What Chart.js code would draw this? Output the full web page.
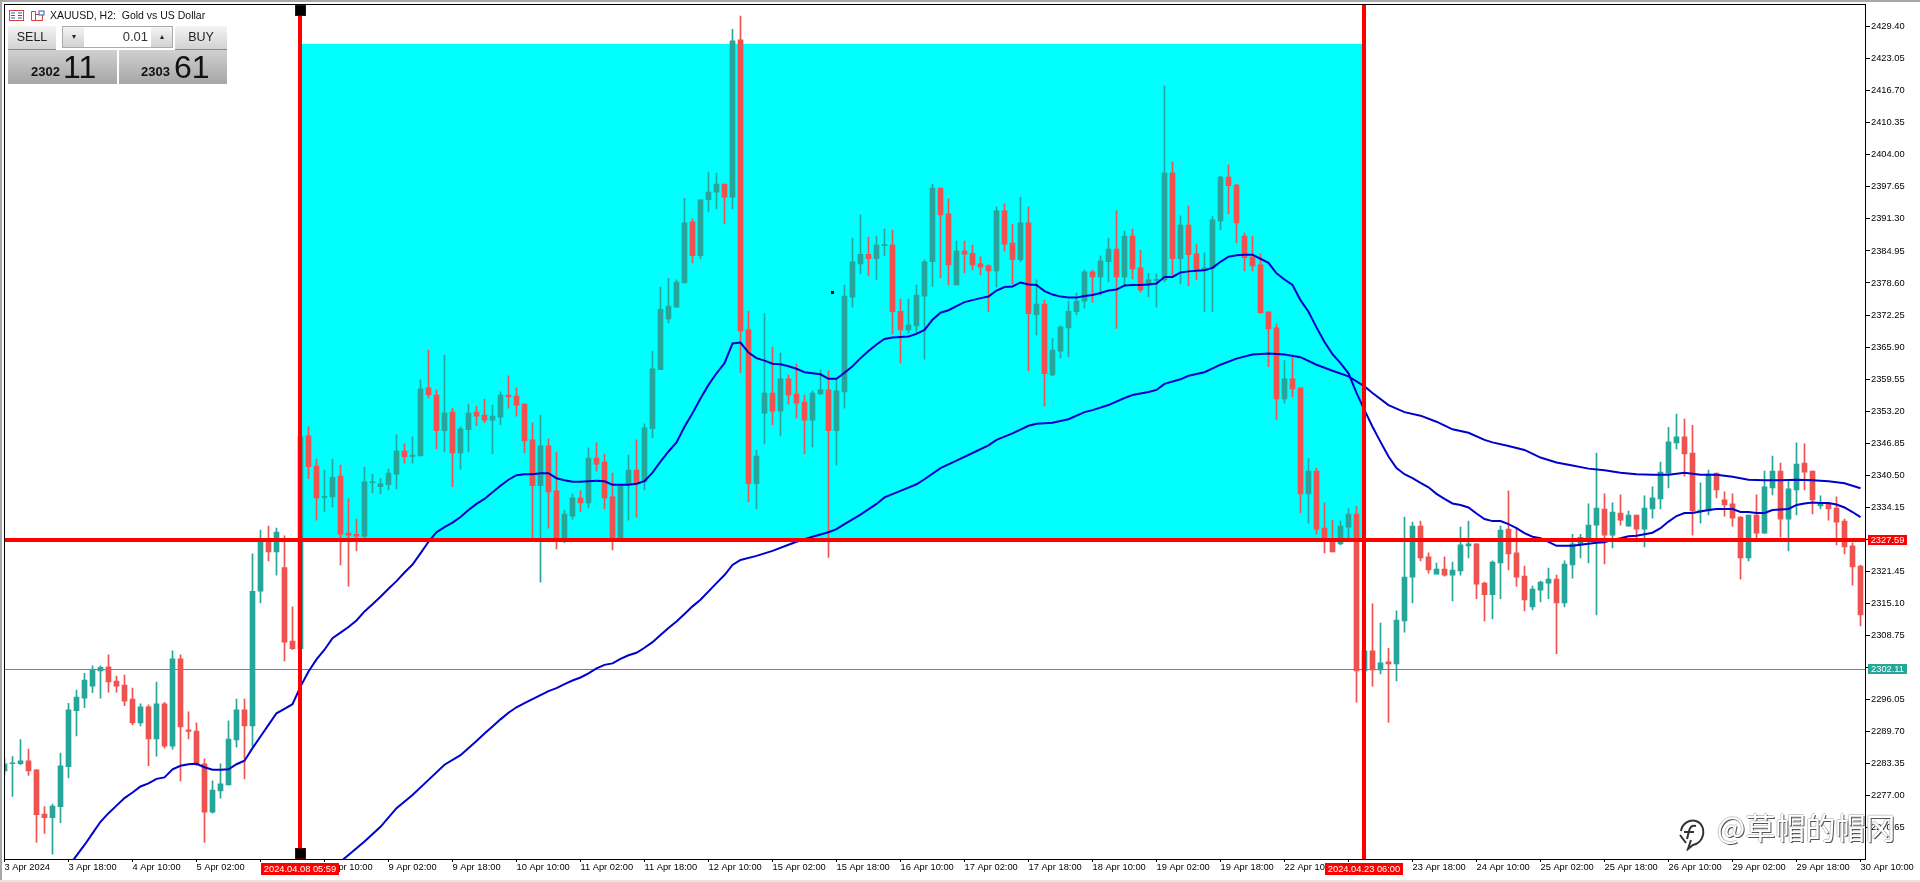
<!DOCTYPE html>
<html>
<head>
<meta charset="utf-8">
<title>XAUUSD, H2</title>
<script src="https://cdn.jsdelivr.net/npm/chart.js@4"></script>
<style>
	html, body { margin: 0; padding: 0; background: #fff; overflow: hidden; }
	#wrap { position: relative; width: 1920px; height: 882px; font-family: "Liberation Sans", sans-serif; }
	#wrap canvas { position: absolute; left: 0; top: 0; }
	.edge { position: absolute; background: #a8a8a8; }
	.box { position: absolute; box-sizing: border-box; text-align: center; color: #222; white-space: pre; }
	.btn { background: linear-gradient(#f4f4f4, #d2d2d2); font-size: 12.500px; line-height: 22px; }
	.quote { background: linear-gradient(#d0d0d0, #a6a6a6); }
	.small { position: absolute; bottom: 5px; font-size: 13px; font-weight: bold; color: #111; }
	.big { position: absolute; bottom: 0; font-size: 32px; line-height: 34px; color: #111; }
	#mark { position: absolute; left: 1717px; top: 806px; font: 30px/40px "Noto Sans CJK SC", sans-serif; color: #fff; white-space: pre;
		text-shadow: 1px 1px 0 #555, -1px 0 0 #ccc, 0 -1px 0 #ccc; }
</style>
</head>
<body>
<div id="wrap">
	<canvas id="chart" width="1920" height="882"></canvas>
	<div class="edge" style="left:0;top:0;width:1920px;height:2px"></div>
	<div class="edge" style="left:0;top:0;width:2px;height:880px"></div>
	<div class="edge" style="left:0;top:880px;width:1920px;height:2px;background:#e4e4e4"></div>

	<svg style="position:absolute;left:9px;top:10px" width="38" height="12">
		<rect x="0.5" y="0.5" width="14" height="10" fill="#fff" stroke="#d8403a"/>
		<path d="M2 3h4M2 5.500h4M2 8h4M9 3h4M9 5.500h4M9 8h4" stroke="#2d5fb0"/>
		<path d="M22.500 1.500h4v9h-4zM26.500 4.500h7v6h-7z" fill="#fff" stroke="#d8403a"/>
		<rect x="30" y="1" width="5" height="4" fill="#fff" stroke="#2d5fb0"/>
	</svg>
	<div class="box" style="left:50px;top:9px;font-size:10.500px;line-height:13px;color:#111">XAUUSD, H2:  Gold vs US Dollar</div>

	<div class="box btn" style="left:8px;top:26px;width:48px;height:24px;border-bottom:1px solid #888">SELL</div>
	<div class="box" style="left:62px;top:26px;width:111px;height:22px;border:1px solid #aaa;background:#fff"></div>
	<div class="box btn" style="left:63px;top:27px;width:21px;height:20px;line-height:20px;font-size:8px">▾</div>
	<div class="box" style="left:84px;top:27px;width:64px;height:20px;line-height:20px;font-size:13px;text-align:right;color:#333">0.01</div>
	<div class="box btn" style="left:151px;top:27px;width:21px;height:20px;line-height:20px;font-size:8px">▴</div>
	<div class="box btn" style="left:175px;top:26px;width:52px;height:24px;border-bottom:1px solid #888">BUY</div>
	<div class="box quote" style="left:8px;top:50px;width:109px;height:34px">
		<span class="small" style="left:23px">2302</span><span class="big" style="left:55px">11</span>
	</div>
	<div class="box quote" style="left:119px;top:50px;width:108px;height:34px">
		<span class="small" style="left:22px">2303</span><span class="big" style="left:55px">61</span>
	</div>

	<div style="position:absolute;left:831px;top:291px;width:3px;height:3px;background:#000"></div>

	<svg style="position:absolute;left:1675px;top:817px" width="32" height="34">
		<path d="M6 14c1-7 8-12 15-10 6 2 8 8 7 14-1 5-5 9-10 10l-5 4c1-3 2-6 3-9M5 18l6 8M21 9c-4-1-6 1-7 5l-2 8M9 15h10" fill="none" stroke="#333" stroke-width="2"/>
	</svg>
	<div id="mark">@草帽的帽冈</div>
</div>

<script>
// XAUUSD H2 bars, 3 Apr 2024 - 30 Apr 2024
var opens = [
	2281.9,2283.3,2283.3,2283.9,2282.1,2273.3,2272.6,2274.8,2282.7,2293.8,
	2296.3,2298.7,2301.7,2302.5,2299.7,2298.9,2296.1,2291.4,2294.6,2288.2,
	2295.2,2286.8,2304.1,2290.0,2289.8,2283.3,2273.7,2277.9,2279.1,2288.0,
	2294.0,2290.8,2317.5,2327.7,2325.3,2322.2,2307.6,2306.1,2348.3,2342.3,
	2336.1,2336.2,2340.3,2329.0,2328.8,2328.4,2339.0,2338.2,2338.6,2340.7,
	2345.3,2344.2,2344.3,2357.8,2356.4,2349.3,2353.0,2344.9,2349.5,2353.0,
	2352.4,2351.4,2352.0,2356.4,2356.2,2354.6,2347.5,2338.4,2346.3,2337.4,
	2327.7,2332.4,2336.0,2335.0,2343.9,2343.1,2336.2,2327.7,2338.6,2341.5,
	2339.2,2349.7,2361.4,2371.5,2373.8,2378.6,2390.7,2384.0,2395.1,2396.6,
	2398.2,2395.6,2426.8,2369.3,2338.8,2352.8,2356.8,2353.2,2359.6,2356.6,
	2355.0,2351.4,2356.6,2357.4,2349.3,2357.0,2375.8,2382.4,2384.3,2383.4,
	2386.0,2386.1,2373.0,2369.3,2370.1,2376.0,2382.8,2397.4,2392.3,2378.2,
	2384.9,2384.5,2382.4,2382.0,2381.0,2392.9,2386.5,2383.2,2390.5,2372.3,
	2374.4,2360.4,2365.1,2369.7,2372.9,2375.0,2380.8,2379.8,2382.8,2385.3,
	2379.8,2387.9,2381.6,2378.2,2379.1,2379.2,2400.4,2383.4,2390.1,2384.4,
	2381.2,2381.5,2390.9,2399.6,2398.0,2387.9,2383.8,2382.2,2372.9,2369.7,
	2355.6,2359.6,2357.8,2336.8,2341.3,2330.0,2327.4,2326.9,2330.2,2332.8,
	2301.7,2305.7,2301.9,2303.5,2303.1,2311.6,2320.3,2330.4,2324.3,2320.9,
	2321.9,2320.7,2321.5,2326.5,2326.9,2319.1,2316.8,2323.1,2329.8,2325.1,
	2320.5,2314.4,2317.7,2319.1,2319.9,2315.2,2322.7,2326.7,2328.0,2330.6,
	2333.8,2328.6,2333.0,2330.4,2332.6,2329.8,2333.8,2335.8,2340.9,2346.9,
	2348.1,2344.9,2333.4,2333.4,2340.9,2335.6,2334.8,2332.2,2324.1,2332.6,
	2329.0,2338.0,2341.3,2331.8,2337.6,2342.9,2341.3,2334.4,2334.8,2334.0,
	2331.4,2326.5,2322.5
];
var closes = [
	2283.3,2283.5,2283.9,2281.9,2273.2,2272.6,2274.9,2282.9,2294.0,2296.5,
	2299.9,2301.9,2302.4,2299.5,2298.7,2295.7,2291.4,2294.6,2288.2,2295.2,
	2286.8,2304.1,2290.6,2289.7,2283.3,2273.7,2278.1,2279.3,2288.2,2294.0,
	2290.8,2317.5,2327.7,2325.3,2329.2,2307.4,2306.1,2348.1,2342.2,2336.0,
	2336.3,2340.1,2328.8,2328.6,2328.4,2339.2,2339.2,2338.8,2340.9,2345.3,
	2344.1,2344.5,2357.6,2356.4,2349.3,2352.8,2344.9,2349.7,2352.8,2352.2,
	2351.4,2352.2,2356.4,2356.0,2354.4,2347.3,2338.4,2346.3,2337.2,2327.5,
	2332.8,2336.0,2335.0,2343.9,2342.7,2336.0,2327.7,2338.6,2341.5,2338.8,
	2349.9,2361.6,2373.4,2374.0,2378.8,2390.5,2384.0,2395.1,2396.6,2398.2,
	2395.6,2426.6,2369.1,2338.8,2344.3,2356.8,2353.2,2359.6,2356.4,2354.8,
	2351.4,2356.8,2357.4,2349.3,2357.2,2376.0,2382.8,2384.3,2383.4,2386.1,
	2386.1,2372.9,2369.3,2370.3,2376.2,2382.8,2397.4,2392.1,2382.2,2384.9,
	2384.3,2382.2,2381.8,2381.0,2392.9,2386.3,2383.2,2390.5,2372.5,2374.4,
	2360.6,2365.3,2369.9,2373.0,2375.0,2380.8,2379.8,2383.0,2385.3,2379.8,
	2387.9,2381.4,2377.2,2379.2,2379.3,2400.4,2383.4,2390.1,2384.2,2381.2,
	2381.6,2391.1,2399.6,2397.9,2390.5,2383.6,2382.0,2372.7,2369.5,2355.6,
	2359.6,2357.6,2336.8,2341.3,2329.8,2327.7,2325.3,2330.4,2332.8,2301.7,
	2305.7,2301.9,2303.3,2303.1,2311.8,2320.3,2330.4,2324.1,2321.7,2321.9,
	2320.7,2321.7,2326.7,2326.9,2318.9,2316.8,2323.3,2329.6,2324.9,2320.3,
	2315.8,2317.9,2319.3,2319.9,2315.2,2322.9,2326.9,2328.2,2330.6,2334.0,
	2328.6,2333.2,2331.6,2332.6,2329.8,2334.0,2336.0,2341.1,2347.1,2348.1,
	2344.7,2333.4,2333.6,2340.7,2337.6,2334.6,2332.0,2324.1,2332.6,2329.0,
	2338.2,2341.3,2331.8,2337.8,2342.7,2341.1,2335.6,2334.8,2333.8,2331.2,
	2326.3,2322.3,2312.8
];
var highs = [
	2284.4,2284.7,2288.1,2286.2,2282.1,2274.8,2275.3,2285.4,2295.3,2297.9,
	2301.2,2302.7,2302.7,2304.9,2300.7,2300.9,2298.3,2295.2,2295.0,2299.5,
	2295.5,2305.7,2304.9,2293.6,2291.4,2284.3,2279.9,2283.3,2291.8,2296.1,
	2296.1,2324.9,2329.6,2330.4,2330.0,2328.5,2314.4,2350.1,2350.1,2343.7,
	2341.5,2343.7,2342.5,2335.8,2331.8,2342.1,2340.7,2339.9,2341.7,2348.5,
	2346.7,2348.1,2359.4,2365.3,2357.4,2364.3,2353.8,2350.1,2354.6,2354.2,
	2355.6,2354.4,2357.0,2360.2,2357.8,2354.7,2350.9,2352.4,2347.7,2345.1,
	2333.6,2336.8,2337.4,2345.9,2346.9,2344.7,2340.9,2338.6,2344.5,2347.5,
	2350.7,2365.1,2377.8,2379.5,2379.2,2395.4,2391.3,2395.1,2400.6,2400.4,
	2398.2,2428.9,2431.5,2373.0,2345.5,2372.6,2365.9,2364.7,2360.4,2362.5,
	2356.4,2357.2,2361.4,2361.2,2359.4,2378.2,2387.5,2392.1,2387.7,2387.9,
	2389.3,2389.1,2375.4,2375.4,2378.2,2383.2,2398.2,2397.4,2395.3,2386.9,
	2386.9,2386.1,2383.8,2382.2,2393.7,2394.3,2390.3,2395.6,2393.7,2379.2,
	2375.2,2367.6,2370.1,2375.0,2376.6,2381.2,2381.2,2384.0,2387.5,2392.9,
	2388.9,2389.3,2385.1,2380.5,2380.4,2417.7,2402.6,2391.9,2393.9,2386.2,
	2384.6,2391.8,2399.8,2402.0,2398.2,2388.5,2387.9,2384.4,2372.9,2370.5,
	2363.2,2363.8,2357.8,2343.8,2341.9,2335.0,2331.6,2331.4,2333.9,2334.4,
	2309.2,2315.0,2311.2,2306.2,2313.6,2332.2,2331.2,2331.4,2325.1,2323.1,
	2324.3,2323.3,2330.2,2331.4,2326.9,2319.3,2323.5,2330.4,2337.4,2330.0,
	2322.5,2318.5,2319.5,2322.1,2320.7,2323.5,2328.8,2328.8,2334.8,2344.9,
	2336.8,2335.0,2336.6,2333.4,2332.6,2336.4,2338.2,2343.1,2350.0,2352.6,
	2351.6,2350.4,2339.0,2341.5,2340.9,2337.2,2336.8,2332.3,2332.6,2336.6,
	2341.3,2344.3,2342.9,2339.3,2346.9,2346.7,2341.3,2336.4,2334.9,2336.2,
	2331.8,2327.1,2322.7
];
var lows = [
	2281.1,2276.8,2283.1,2281.0,2267.7,2269.5,2265.4,2271.6,2280.5,2288.8,
	2294.4,2297.4,2296.3,2297.5,2297.5,2294.8,2291.0,2290.8,2282.9,2284.8,
	2286.4,2286.2,2279.9,2288.2,2282.9,2267.7,2273.5,2276.5,2279.1,2286.6,
	2280.3,2286.8,2315.2,2323.5,2320.7,2303.7,2305.9,2306.0,2339.8,2331.6,
	2333.2,2334.2,2322.7,2318.5,2325.5,2328.0,2337.0,2336.8,2337.6,2337.8,
	2342.9,2342.9,2344.3,2355.8,2345.7,2345.1,2338.2,2341.7,2345.1,2350.3,
	2350.9,2344.7,2350.5,2353.8,2352.2,2344.9,2328.0,2319.3,2330.0,2325.9,
	2327.1,2331.8,2333.2,2334.0,2341.3,2333.8,2325.7,2327.5,2331.6,2332.2,
	2337.6,2347.9,2361.4,2370.7,2373.8,2378.6,2382.6,2383.4,2392.7,2393.3,
	2390.3,2393.3,2360.8,2335.2,2333.8,2346.7,2350.5,2348.3,2354.6,2351.8,
	2344.7,2346.1,2356.4,2324.2,2342.5,2353.8,2373.8,2380.4,2380.0,2379.2,
	2384.0,2368.5,2362.7,2368.6,2368.6,2363.5,2377.9,2379.6,2378.2,2378.2,
	2380.6,2381.2,2380.2,2372.9,2377.8,2384.9,2378.4,2382.8,2361.2,2368.3,
	2354.2,2360.2,2363.7,2364.0,2372.3,2373.6,2374.8,2376.2,2378.8,2369.6,
	2378.0,2379.4,2376.8,2375.9,2373.8,2378.8,2380.2,2378.4,2378.0,2379.2,
	2372.9,2372.9,2389.1,2392.3,2386.6,2381.0,2381.0,2372.5,2362.0,2351.5,
	2354.8,2356.0,2333.0,2331.0,2328.8,2325.1,2325.3,2326.7,2327.7,2295.5,
	2301.2,2298.7,2301.1,2291.5,2299.7,2309.4,2315.2,2323.5,2321.1,2320.9,
	2320.5,2315.6,2320.7,2324.1,2316.0,2311.6,2312.0,2316.0,2321.7,2318.5,
	2313.6,2313.8,2315.4,2316.0,2305.1,2314.4,2320.1,2324.1,2323.1,2312.8,
	2322.9,2326.1,2330.6,2330.4,2327.7,2326.3,2332.0,2333.8,2338.0,2345.7,
	2340.3,2328.6,2331.0,2332.6,2336.0,2332.4,2330.4,2319.9,2323.5,2328.0,
	2329.0,2336.6,2328.2,2325.5,2332.6,2337.6,2332.8,2333.8,2331.6,2326.7,
	2324.9,2318.7,2310.6
];

// fast moving average, one value per bar starting at bar ma1First
var ma1First = 8;
var ma1Values = [
	2262.9,2265.1,2267.2,2269.5,2271.8,2273.5,2275.0,2276.5,2277.6,2278.8,2279.4,2280.3,2280.6,2282.2,2282.9,2283.2,
	2283.3,2282.6,2282.1,2282.1,2282.2,2283.2,2283.9,2286.4,2288.7,2291.0,2293.3,2294.2,2295.1,2298.6,2301.6,2304.0,
	2305.9,2308.2,2309.3,2310.4,2311.7,2313.5,2314.9,2316.4,2318.0,2319.5,2321.2,2322.8,2325.0,2327.3,2329.2,2330.2,
	2331.1,2332.2,2333.6,2334.8,2335.8,2337.1,2338.4,2339.6,2340.5,2340.7,2340.7,2340.9,2340.9,2339.9,2339.5,2339.2,
	2339.2,2339.3,2339.4,2339.3,2338.6,2338.6,2338.6,2338.8,2339.3,2341.0,2343.2,2345.2,2347.0,2350.1,2352.8,2355.7,
	2358.4,2360.7,2362.7,2366.6,2366.8,2364.8,2363.7,2363.2,2362.6,2362.5,2362.1,2361.6,2360.9,2360.7,2360.5,2359.6,
	2359.6,2360.8,2362.1,2363.7,2365.1,2366.4,2367.5,2367.8,2367.9,2368.0,2368.5,2369.3,2371.3,2372.7,2373.2,2374.0,
	2374.8,2375.2,2375.6,2375.9,2377.1,2377.8,2377.9,2378.7,2378.3,2378.2,2377.0,2376.3,2375.9,2375.7,2375.7,2376.0,
	2376.2,2376.6,2377.1,2377.3,2378.1,2378.2,2378.2,2378.3,2378.5,2379.8,2379.8,2380.7,2380.9,2381.0,2381.1,2381.6,
	2382.8,2383.8,2384.1,2384.2,2384.2,2383.4,2382.6,2380.5,2379.3,2378.2,2375.2,2372.9,2369.8,2366.9,2364.5,2362.7,
	2360.7,2356.8,2353.4,2350.1,2347.1,2344.2,2341.9,2340.7,2339.9,2339.0,2338.1,2336.8,2335.8,2334.9,2334.6,2334.1,
	2332.9,2331.8,2331.4,2331.4,2330.8,2330.0,2329.0,2328.3,2328.0,2327.3,2326.5,2326.5,2326.5,2326.7,2326.9,2327.1,
	2327.2,2327.7,2328.0,2328.4,2328.5,2328.8,2329.1,2330.0,2331.3,2332.4,2333.0,2333.0,2333.3,2333.6,2333.8,2333.8,
	2333.8,2333.2,2333.2,2333.0,2333.0,2333.6,2333.7,2333.8,2334.6,2334.9,2335.1,2335.0,2335.0,2334.7,2334.1,2333.2,
	2332.2
];

// slow moving average, read at the bars listed in ma2Bars
var ma2Bars = [
	42,43,45,47,49,51,53,55,57,59,60,61,62,63,64,65,66,67,68,69,70,71,72,73,74,75,76,77,78,79,80,81,82,83,84,85,86,87,89,90,
	91,92,94,96,98,99,101,103,104,105,107,109,110,112,114,115,117,119,121,123,124,126,128,129,131,133,135,136,138,140,141,143,144,145,147,148,150,152,154,156,
	158,160,162,164,166,168,170,171,173,175,177,179,181,183,185,186,188,190,192,194,196,198,200,202,204,206,208,210,212,214,216,218,220,222,224,226,228,230,232
];
var ma2Values = [
	2263.9,2265.2,2267.9,2270.8,2274.5,2277.1,2280.1,2283.1,2285.0,2287.8,2289.3,2290.7,2292.1,2293.4,2294.5,2295.3,2296.1,2296.9,2297.7,2298.3,2299.1,2299.8,2300.4,2301.2,2302.2,2302.9,2303.2,2304.1,2304.8,2305.3,2306.3,2307.4,2308.8,2310.2,2311.5,2313.0,2314.5,2315.8,2319.1,2320.7,
	2322.7,2323.7,2324.5,2325.5,2326.7,2327.3,2328.3,2329.2,2329.8,2330.8,2332.7,2334.8,2336.1,2337.4,2338.7,2339.7,2341.9,2343.4,2344.9,2346.4,2347.5,2348.8,2350.3,2350.7,2350.9,2351.6,2353.0,2353.4,2354.4,2355.8,2356.4,2357.0,2357.4,2358.6,2359.5,2360.2,2360.9,2362.4,2363.6,2364.4,
	2364.6,2364.4,2363.9,2362.4,2361.2,2360.1,2358.1,2356.8,2354.4,2353.0,2352.3,2351.1,2349.6,2348.9,2347.5,2347.0,2346.3,2345.5,2344.0,2343.0,2342.4,2341.8,2341.5,2341.0,2340.7,2340.6,2340.6,2341.0,2340.6,2340.6,2340.2,2339.6,2339.5,2339.5,2339.6,2339.5,2339.3,2338.9,2337.9
];

var priceTicks = [
	2429.40,2423.05,2416.70,2410.35,2404.00,2397.65,2391.30,2384.95,2378.60,2372.25,2365.90,2359.55,2353.20,
	2346.85,2340.50,2334.15,2327.80,2321.45,2315.10,2308.75,2302.40,2296.05,2289.70,2283.35,2277.00,2270.65
];
// one label every 8 bars
var timeTicks = [
	'3 Apr 2024','3 Apr 18:00','4 Apr 10:00','5 Apr 02:00','5 Apr 18:00','8 Apr 10:00','9 Apr 02:00','9 Apr 18:00',
	'10 Apr 10:00','11 Apr 02:00','11 Apr 18:00','12 Apr 10:00','15 Apr 02:00','15 Apr 18:00','16 Apr 10:00',
	'17 Apr 02:00','17 Apr 18:00','18 Apr 10:00','19 Apr 02:00','19 Apr 18:00','22 Apr 10:00','23 Apr 02:00',
	'23 Apr 18:00','24 Apr 10:00','25 Apr 02:00','25 Apr 18:00','26 Apr 10:00','29 Apr 02:00','29 Apr 18:00','30 Apr 10:00'
];

var lineBars = [37, 170];
var lineTimes = ['2024.04.08 05:59', '2024.04.23 06:00'];
var linePrice = 2327.59;
var bidPrice = 2302.11;
var zoneTop = 2426.0;

var UP = '#26a69a', DOWN = '#ef5350', RED = '#ff0000';
var FAMILY = '"Liberation Sans", sans-serif';
var FONT = '9.3px ' + FAMILY;

var bodies = [], wicks = [], colors = [];
opens.forEach(function(o, i) {
	bodies.push({x: i, y: [o, closes[i]]});
	wicks.push({x: i, y: [lows[i], highs[i]]});
	colors.push(closes[i] >= o ? UP : DOWN);
});

function tag(ctx, x, y, w, h, color, text) {
	ctx.fillStyle = color;
	ctx.fillRect(x, y, w, h);
	ctx.fillStyle = '#fff';
	ctx.font = FONT;
	ctx.textAlign = 'center';
	ctx.textBaseline = 'middle';
	ctx.fillText(text, x + w / 2, y + h / 2 + 0.5);
}

var tradeObjects = {
	id: 'tradeObjects',
	beforeDatasetsDraw: function(chart) {
		var ctx = chart.ctx, a = chart.chartArea, sx = chart.scales.x, sy = chart.scales.y;
		ctx.save();
		ctx.fillStyle = '#00ffff';
		var x0 = sx.getPixelForValue(lineBars[0]), x1 = sx.getPixelForValue(lineBars[1]);
		var top = sy.getPixelForValue(zoneTop), bottom = sy.getPixelForValue(linePrice);
		ctx.fillRect(x0, top, x1 - x0, bottom - top);
		ctx.fillStyle = UP;
		ctx.fillRect(a.left, Math.round(sy.getPixelForValue(bidPrice)), a.right - a.left, 1);
		ctx.restore();
	},
	afterDatasetsDraw: function(chart) {
		var ctx = chart.ctx, a = chart.chartArea, sx = chart.scales.x, sy = chart.scales.y;
		ctx.save();
		ctx.fillStyle = RED;
		ctx.fillRect(a.left, Math.round(sy.getPixelForValue(linePrice)) - 2, a.right - a.left, 4);
		lineBars.forEach(function(b) {
			ctx.fillRect(Math.floor(sx.getPixelForValue(b)) - 2, a.top, 4, a.bottom - a.top);
		});
		ctx.strokeStyle = '#000';
		ctx.lineWidth = 1;
		ctx.strokeRect(a.left, a.top + 0.5, a.right - a.left + 0.5, a.bottom - a.top);
		ctx.restore();
	},
	afterDraw: function(chart) {
		var ctx = chart.ctx, a = chart.chartArea, sx = chart.scales.x, sy = chart.scales.y;
		ctx.save();
		// drag handles of the first vertical line
		var hx = Math.floor(sx.getPixelForValue(lineBars[0]));
		[a.top + 1, a.bottom - 11].forEach(function(y) {
			ctx.fillStyle = '#5a0000';
			ctx.fillRect(hx - 5, y, 11, 11);
			ctx.fillStyle = '#000';
			ctx.fillRect(hx - 4, y + 1, 9, 9);
		});
		lineBars.forEach(function(b, i) {
			var x = Math.floor(sx.getPixelForValue(b));
			tag(ctx, x - 39, 863, 78, 12, RED, lineTimes[i]);
		});
		tag(ctx, 1868, Math.round(sy.getPixelForValue(linePrice)) - 5, 39, 10, RED, linePrice.toFixed(2));
		tag(ctx, 1868, Math.round(sy.getPixelForValue(bidPrice)) - 5, 39, 10, UP, bidPrice.toFixed(2));
		ctx.restore();
	}
};

new Chart(document.getElementById('chart'), {
	type: 'bar',
	data: {
		datasets: [
			{
				type: 'line',
				data: ma1Values.map(function(v, i) { return {x: ma1First + i, y: v}; }),
				borderColor: '#0000cd', borderWidth: 2, pointRadius: 0, tension: 0, order: 1
			},
			{
				type: 'line',
				data: ma2Values.map(function(v, i) { return {x: ma2Bars[i], y: v}; }),
				borderColor: '#0000cd', borderWidth: 2, pointRadius: 0, tension: 0, order: 1
			},
			{
				data: bodies, backgroundColor: colors, barThickness: 5, minBarLength: 1, grouped: false, order: 2
			},
			{
				data: wicks, backgroundColor: colors, barThickness: 1, grouped: false, order: 3
			}
		]
	},
	options: {
		responsive: false,
		animation: false,
		devicePixelRatio: 1,
		layout: {padding: {left: 4.5, top: 4, right: 0, bottom: 0}},
		plugins: {legend: {display: false}, tooltip: {enabled: false}},
		scales: {
			x: {
				type: 'linear', min: 0, max: 232.5625, offset: false,
				grid: {drawOnChartArea: false, drawTicks: true, tickLength: 3, color: '#000', offset: false},
				border: {display: false},
				afterBuildTicks: function(scale) {
					scale.ticks = timeTicks.map(function(t, i) { return {value: i * 8}; });
				},
				afterFit: function(scale) {
					scale.height = 23;
					scale.paddingLeft = scale.paddingRight = 0;
				},
				ticks: {
					autoSkip: false, maxRotation: 0, align: 'start', padding: 0, color: '#000',
					font: {family: FAMILY, size: 9.3},
					callback: function(v) { return timeTicks[v / 8]; }
				}
			},
			y: {
				position: 'right', min: 2264.42, max: 2433.9,
				grid: {drawOnChartArea: false, drawTicks: true, tickLength: 5, color: '#000'},
				border: {display: false},
				afterBuildTicks: function(scale) {
					scale.ticks = priceTicks.map(function(v) { return {value: v}; });
				},
				afterFit: function(scale) {
					scale.width = 55;
					scale.paddingTop = scale.paddingBottom = 0;
				},
				ticks: {
					autoSkip: false, padding: 1, color: '#000',
					font: {family: FAMILY, size: 9.3},
					callback: function(v) { return v.toFixed(2); }
				}
			}
		}
	},
	plugins: [tradeObjects]
});
</script>
</body>
</html>
